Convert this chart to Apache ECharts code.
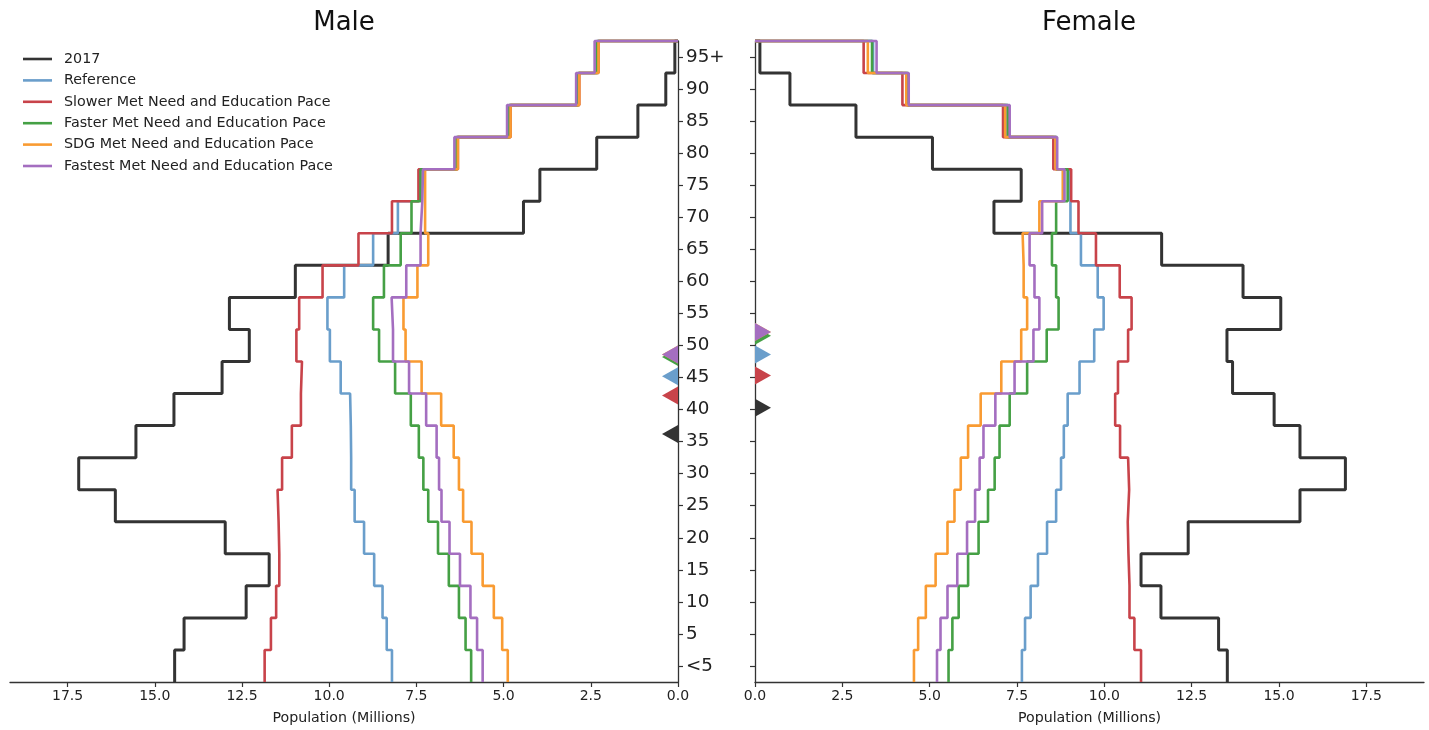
<!DOCTYPE html>
<html>
<head>
<meta charset="utf-8">
<script src="https://cdn.jsdelivr.net/npm/echarts@6/dist/echarts.min.js"></script>
<style>
html,body{margin:0;padding:0;background:#fff;}
#chart{width:1429px;height:730px;}
</style>
</head>
<body>
<div id="chart"></div>
<script>
// ---- Data (populations in millions; index 0 = "<5", ..., 19 = "95+") ----
const ageLabels = ['<5','5','10','15','20','25','30','35','40','45','50','55','60','65','70','75','80','85','90','95+'];
const seriesNames = ['2017','Reference','Slower Met Need and Education Pace','Faster Met Need and Education Pace','SDG Met Need and Education Pace','Fastest Met Need and Education Pace'];
const seriesColors = ['#333333','#6a9ecb','#c8434a','#45a045','#f99b32','#a46ec0'];

const male2017    = [14.43,14.16,12.38,11.72,12.98,16.13,17.18,15.54,14.45,13.07,12.29,12.86,10.97,8.31,4.43,3.96,2.33,1.15,0.35,0.09];
const maleRef     = [8.20,8.35,8.47,8.71,9.00,9.27,9.37,9.38,9.40,9.67,9.98,10.05,9.57,8.74,8.03,7.42,6.33,4.82,2.85,2.30];
const maleSlower  = [11.85,11.67,11.52,11.43,11.45,11.48,11.35,11.07,10.81,10.78,10.94,10.86,10.19,9.16,8.20,7.44,6.31,4.80,2.83,2.28];
const maleFaster  = [5.93,6.09,6.28,6.57,6.88,7.16,7.30,7.43,7.66,8.11,8.57,8.74,8.43,7.95,7.64,7.38,6.35,4.84,2.87,2.33];
const maleSDG     = [4.88,5.04,5.28,5.60,5.92,6.16,6.28,6.43,6.79,7.35,7.81,7.87,7.47,7.16,7.25,7.25,6.31,4.80,2.83,2.28];
const maleFastest = [5.60,5.76,5.95,6.25,6.55,6.78,6.85,6.92,7.22,7.71,8.17,8.21,7.79,7.38,7.33,7.31,6.41,4.90,2.92,2.39];

const female2017    = [13.52,13.27,11.62,11.05,12.40,15.60,16.90,15.60,14.86,13.67,13.51,15.05,13.97,11.64,6.84,7.62,5.08,2.89,1.00,0.14];
const femaleRef     = [7.64,7.73,7.89,8.10,8.36,8.62,8.76,8.84,8.95,9.29,9.71,9.98,9.81,9.33,9.03,8.98,8.62,7.20,4.36,3.38];
const femaleSlower  = [11.05,10.86,10.72,10.69,10.67,10.71,10.68,10.45,10.31,10.39,10.68,10.78,10.44,9.76,9.26,9.05,8.54,7.10,4.22,3.11];
const femaleFaster  = [5.54,5.65,5.83,6.10,6.40,6.67,6.86,7.00,7.29,7.79,8.35,8.69,8.62,8.50,8.62,8.95,8.63,7.24,4.38,3.35];
const femaleSDG     = [4.55,4.67,4.89,5.17,5.51,5.71,5.89,6.10,6.46,7.05,7.62,7.79,7.69,7.66,8.14,8.81,8.60,7.16,4.33,3.23];
const femaleFastest = [5.21,5.31,5.51,5.79,6.07,6.30,6.43,6.54,6.88,7.43,7.97,8.14,8.00,7.86,8.22,8.86,8.65,7.29,4.40,3.48];

// median ages (years) shown as triangle markers, same order as seriesNames
const maleMedian   = [38.7,47.7,44.7,50.7,51.1,51.1];
const femaleMedian = [42.8,51.1,47.8,54.0,54.6,54.6];

const xTicks = [0,2.5,5,7.5,10,12.5,15,17.5];
const xMax = 19.15;
// --------------------------------------------------------------------------

const FONT = 'DejaVu Sans';
const maleSets = [male2017,maleRef,maleSlower,maleFaster,maleSDG,maleFastest];
const femaleSets = [female2017,femaleRef,femaleSlower,femaleFaster,femaleSDG,femaleFastest];

function stepPoints(vals){
  const pts = [];
  vals.forEach((v,i)=>{ pts.push([v,i]); pts.push([v,i+1]); });
  pts.push([0, vals.length]);
  return pts;
}

function xAxisFor(grid, inverse){
  return {
    type:'value', gridIndex:grid, min:0, max:xMax, interval:2.5, inverse:inverse,
    position:'bottom',
    name:'Population (Millions)', nameLocation:'middle', nameGap:29,
    nameTextStyle:{fontFamily:FONT,fontSize:14.2,color:'#222'},
    axisLine:{show:true,lineStyle:{color:'#333',width:1.3}},
    axisTick:{show:true,length:5,lineStyle:{color:'#333',width:1.2},customValues:xTicks},
    axisLabel:{fontFamily:FONT,fontSize:14,color:'#222',margin:7,customValues:xTicks,
      formatter:(v)=> (Math.abs(v/2.5 - Math.round(v/2.5))<1e-6 ? v.toFixed(1) : '')},
    splitLine:{show:false}
  };
}

const series = [];
[maleSets,femaleSets].forEach((sets,g)=>{
  sets.forEach((vals,k)=>{
    series.push({
      name:seriesNames[k], type:'line', xAxisIndex:g, yAxisIndex:g*2,
      data:stepPoints(vals), showSymbol:false, symbol:'none', clip:false,
      lineStyle:{color:seriesColors[k], width:k===0?3:2.6},
      itemStyle:{color:seriesColors[k]},
      emphasis:{disabled:true}, z:2+k
    });
  });
  const med = g===0 ? maleMedian : femaleMedian;
  series.push({
    name:g===0?'male-median':'female-median', type:'scatter', xAxisIndex:g, yAxisIndex:g*2,
    symbol:'triangle', symbolSize:[18,16], symbolRotate:g===0?90:-90,
    symbolOffset:[g===0?-8:8,0], clip:false, z:20,
    emphasis:{disabled:true},
    data:med.map((a,k)=>({value:[0,a/5], itemStyle:{color:seriesColors[k], opacity:1}}))
  });
});

const option = {
  animation:false,
  backgroundColor:'#fff',
  textStyle:{fontFamily:FONT},
  graphic:[
    {type:'text', x:344, y:23, style:{text:'Male', x:0, y:0, align:'center', verticalAlign:'middle', fontFamily:FONT, fontSize:26, fill:'#111'}},
    {type:'text', x:1089, y:23, style:{text:'Female', x:0, y:0, align:'center', verticalAlign:'middle', fontFamily:FONT, fontSize:26, fill:'#111'}}
  ],
  legend:{
    data:seriesNames, orient:'vertical', left:18, top:47,
    icon:'rect', itemWidth:29, itemHeight:2.6, itemGap:7.4,
    textStyle:{fontFamily:FONT,fontSize:14.3,color:'#222',padding:[0,0,0,7]},
    selectedMode:false
  },
  grid:[
    {left:10, right:751, top:41, bottom:47},
    {left:755, right:5, top:41, bottom:47}
  ],
  xAxis:[xAxisFor(0,true), xAxisFor(1,false)],
  yAxis:[
    {type:'value', gridIndex:0, min:0, max:20, show:false},
    {type:'category', gridIndex:0, data:ageLabels, position:'right',
      axisLine:{show:true,lineStyle:{color:'#333',width:1.3}},
      axisTick:{show:true,alignWithLabel:true,length:5,lineStyle:{color:'#333',width:1.2}},
      axisLabel:{show:true,interval:0,fontFamily:FONT,fontSize:18.3,color:'#222',margin:8},
      splitLine:{show:false}},
    {type:'value', gridIndex:1, min:0, max:20, show:false},
    {type:'category', gridIndex:1, data:ageLabels, position:'left',
      axisLine:{show:true,lineStyle:{color:'#333',width:1.3}},
      axisTick:{show:true,alignWithLabel:true,length:5,lineStyle:{color:'#333',width:1.2}},
      axisLabel:{show:false},
      splitLine:{show:false}}
  ],
  series:series
};

const chart = echarts.init(document.getElementById('chart'), null, {renderer:'canvas'});
chart.setOption(option);
</script>
</body>
</html>
